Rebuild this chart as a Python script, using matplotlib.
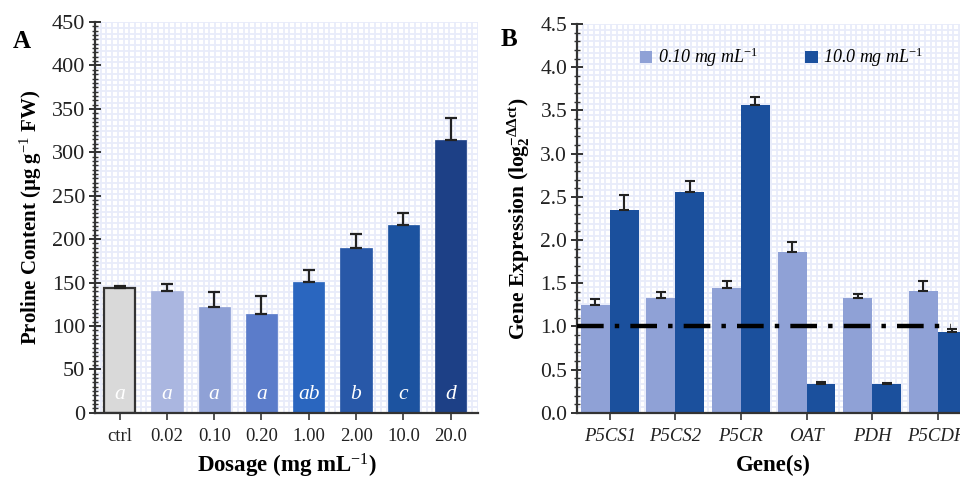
import matplotlib
matplotlib.use("Agg")
import matplotlib.pyplot as plt
from matplotlib.ticker import MultipleLocator, FormatStrFormatter
import numpy as np

plt.rcParams["font.family"] = ["Liberation Serif", "DejaVu Serif"]
plt.rcParams["mathtext.fontset"] = "custom"
plt.rcParams["mathtext.rm"] = "Liberation Serif"
plt.rcParams["mathtext.it"] = "Liberation Serif:italic"
plt.rcParams["mathtext.bf"] = "Liberation Serif:bold"

# Panel A data
dosages = ["ctrl", "0.02", "0.10", "0.20", "1.00", "2.00", "10.0", "20.0"]
proline = [144, 140, 122, 114, 151, 190, 216, 314]
proline_err = [2, 8, 17, 21, 13, 16, 14, 25]
letters = ["a", "a", "a", "a", "ab", "b", "c", "d"]
colors_a = ["#d9d9d9", "#aab6e0", "#8fa1d6", "#5b7cca", "#2a66bf",
            "#2858a8", "#1c53a0", "#1d4086"]

# Panel B data
genes = ["P5CS1", "P5CS2", "P5CR", "OAT", "PDH", "P5CDH"]
expr_low = [1.25, 1.33, 1.45, 1.86, 1.33, 1.41]
expr_low_err = [0.07, 0.07, 0.08, 0.12, 0.05, 0.12]
expr_high = [2.35, 2.55, 3.56, 0.33, 0.33, 0.94]
expr_high_err = [0.17, 0.13, 0.09, 0.03, 0.02, 0.03]
series_labels = ["0.10 mg mL$^{-1}$", "10.0 mg mL$^{-1}$"]
color_low = "#8fa1d6"
color_high = "#1b509d"

fig = plt.figure(figsize=(9.6, 4.8), dpi=100)

rect_a = [0.099, 0.14, 0.399, 0.814]
rect_b = [0.601, 0.14, 0.41, 0.81]


def background(rect, nx, ny):
    bg = fig.add_axes(rect, zorder=0)
    bg.set_xlim(0, 1)
    bg.set_ylim(0, 1)
    bg.xaxis.set_major_locator(MultipleLocator(1 / nx))
    bg.yaxis.set_major_locator(MultipleLocator(1 / ny))
    bg.grid(True, color="#e8ecfa", lw=1.3)
    bg.tick_params(length=0, labelbottom=False, labelleft=False)
    for s in bg.spines.values():
        s.set_visible(False)


def style(ax, ysize):
    ax.set_facecolor("none")
    for s in ["top", "right"]:
        ax.spines[s].set_visible(False)
    for s in ["left", "bottom"]:
        ax.spines[s].set_color("#333333")
        ax.spines[s].set_linewidth(1.6)
    ax.tick_params(axis="y", which="major", direction="inout", length=8,
                   width=1.4, color="#333333", labelsize=ysize, pad=3,
                   labelcolor="#222222")
    ax.tick_params(axis="y", which="minor", direction="inout", length=5,
                   width=1.0, color="#333333")
    ax.tick_params(axis="x", which="major", direction="out", length=5,
                   width=1.2, color="#333333", labelsize=13.5, pad=6,
                   labelcolor="#222222")


# ---- Panel A ----
background(rect_a, 67, 68)
ax1 = fig.add_axes(rect_a, zorder=1)
style(ax1, 16)
x = np.arange(len(dosages))
ax1.bar(x, proline, width=0.66, color=colors_a,
        edgecolor=["#333333"] + colors_a[1:], linewidth=[1.6] + [0.5] * 7, zorder=2)
ax1.errorbar(x, proline, yerr=[np.zeros(len(x)), proline_err], fmt="none",
             ecolor="#222222", elinewidth=1.6, capsize=4, capthick=1.6, zorder=3)
for xi, lab in zip(x, letters):
    ax1.text(xi, 21, lab, color="white", style="italic", fontsize=15.5,
             ha="center", va="center", zorder=4)
ax1.set_xlim(-0.52, len(dosages) - 0.42)
ax1.set_ylim(0, 450)
ax1.set_xticks(x)
ax1.set_xticklabels(dosages)
ax1.yaxis.set_major_locator(MultipleLocator(50))
ax1.yaxis.set_minor_locator(MultipleLocator(5))
ax1.set_ylabel("Proline Content (µg g$^{-1}$ FW)", fontsize=15,
               fontweight="bold", labelpad=6)
ax1.set_xlabel("Dosage (mg mL$^{-1}$)", fontsize=16.5, fontweight="bold",
               labelpad=5)
fig.text(0.013, 0.9, "A", fontsize=18, fontweight="bold")

# ---- Panel B ----
background(rect_b, 69, 68)
ax2 = fig.add_axes(rect_b, zorder=1)
style(ax2, 15.5)
g = np.arange(len(genes))
w = 0.44
ax2.bar(g - w / 2, expr_low, width=w, color=color_low, label=series_labels[0], zorder=2)
ax2.bar(g + w / 2, expr_high, width=w, color=color_high, label=series_labels[1], zorder=2)
ax2.errorbar(g - w / 2, expr_low, yerr=[np.zeros(len(g)), expr_low_err], fmt="none",
             ecolor="#222222", elinewidth=1.5, capsize=3.5, capthick=1.5, zorder=3)
ax2.errorbar(g + w / 2, expr_high, yerr=[np.zeros(len(g)), expr_high_err], fmt="none",
             ecolor="#222222", elinewidth=1.5, capsize=3.5, capthick=1.5, zorder=3)
ax2.axhline(1.0, xmin=0, xmax=0.95, color="black", lw=3.2,
            dashes=(6, 2.5, 1, 2.5), zorder=5)
ax2.set_xlim(-0.5, len(genes) - 0.5)
ax2.set_ylim(0, 4.5)
ax2.set_xticks(g)
ax2.set_xticklabels(genes, style="italic")
ax2.yaxis.set_major_locator(MultipleLocator(0.5))
ax2.yaxis.set_minor_locator(MultipleLocator(0.1))
ax2.yaxis.set_major_formatter(FormatStrFormatter("%.1f"))
ax2.set_ylabel(r"Gene Expression (log$\mathbf{_2^{-\Delta\Delta ct}}$)", fontsize=15.5,
               fontweight="bold", labelpad=6)
ax2.set_xlabel("Gene(s)", fontsize=16.5, fontweight="bold", labelpad=7)
leg = ax2.legend(loc="upper center", bbox_to_anchor=(0.52, 0.985), ncol=2,
                 frameon=False, handlelength=0.7, handleheight=0.7,
                 columnspacing=2.6, handletextpad=0.3,
                 prop={"family": "Liberation Serif", "style": "italic", "size": 13})
fig.text(0.522, 0.905, "B", fontsize=18, fontweight="bold")

fig.savefig("out.png", dpi=100)
